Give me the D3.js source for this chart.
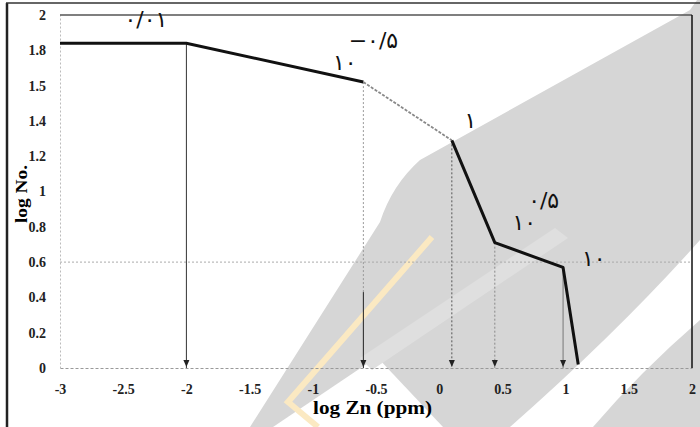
<!DOCTYPE html>
<html>
<head>
<meta charset="utf-8">
<script src="https://cdn.jsdelivr.net/npm/d3@7"></script>
<style>
	body { margin: 0; background: #fff; }
	svg { display: block; }
	.anno { font-family: 'DejaVu Sans', sans-serif; fill: #111; }
</style>
</head>
<body>
<div id="chart"></div>
<script>
// Data
const xTickValues = [-3, -2.5, -2, -1.5, -1, -0.5, 0, 0.5, 1, 1.5, 2]
const xTickLabels = ['-3', '-2.5', '-2', '-1.5', '-1', '-0.5', '0', '0.5', '1', '1.5', '2']
const yTickValues = [0, 0.2, 0.4, 0.6, 0.8, 1, 1.2, 1.4, 1.6, 1.8, 2]
const yTickLabels = ['0', '0.2', '0.4', '0.6', '0.8', '1', '1.2', '1.4', '1.5', '1.8', '2']

// break points of the curve (log Zn, log No.)
const curveX = [-3, -2, -0.6, 0.1, 0.44, 0.98, 1.1]
const curveY = [1.84, 1.84, 1.62, 1.29, 0.71, 0.57, 0.02]

// arrows dropped from the break points
const arrowX = [-2, -0.6, 0.1, 0.44, 0.98]
const arrowTop = [1.84, 1.62, 1.29, 0.71, 0.57]

// persian labels: base text, superscript, anchor in data units
const annoBase = ['۰/۰۱', '۱۰', '۱', '۱۰', '۱۰']
const annoSup = ['', '−۰/۵', '', '۰/۵', '']
const annoX = [-2.49, -0.84, 0.2, 0.58, 1.13]
const annoY = [1.93, 1.69, 1.36, 0.78, 0.58]

const W = 700, H = 427
const margin = { top: 15, right: 8, bottom: 59, left: 60 }
const width = W - margin.left - margin.right
const height = H - margin.top - margin.bottom

const svg = d3.select('#chart').append('svg')
	.attr('width', W)
	.attr('height', H)

// scan background: outer frame + watermark
const bg = svg.append('g').classed('background', true)
bg.append('rect').attr('width', W).attr('height', H).attr('fill', '#fff')
bg.append('path')
	.attr('d', 'M697,0 L700,0 L700,427 L250,427 L380,222 Q392,185 420,160 L690,10 Z')
	.attr('fill', '#d6d6d6')
bg.append('path')
	.attr('d', 'M273,427 L377,357 L443,427 Z')
	.attr('fill', '#fff')
bg.append('path')
	.attr('d', 'M510,427 Q620,330 700,240 L700,320 Q640,372 593,427 Z')
	.attr('fill', '#fff')
bg.append('path')
	.attr('d', 'M360,358 L555,228 L568,238 L372,370 Z')
	.attr('fill', '#dfdfdf')
bg.append('polyline')
	.attr('points', '432,237 288,402 318,427')
	.attr('fill', 'none')
	.attr('stroke', '#fbe9c2')
	.attr('stroke-width', 6)
bg.append('line').attr('x1', 7).attr('x2', 7).attr('y1', 3).attr('y2', H)
	.attr('stroke', '#222').attr('stroke-width', 2.5)
bg.append('line').attr('x1', 6).attr('x2', W).attr('y1', 3).attr('y2', 3)
	.attr('stroke', '#333').attr('stroke-width', 1.5)

const g = svg.append('g')
	.attr('transform', `translate(${margin.left}, ${margin.top})`)

const x = d3.scaleLinear().domain([-3, 2]).range([0, width])
const y = d3.scaleLinear().domain([0, 2]).range([height, 0])

// faint grid line at 0.6
g.append('line')
	.attr('x1', 0).attr('x2', width)
	.attr('y1', y(0.6)).attr('y2', y(0.6))
	.attr('stroke', '#aaa').attr('stroke-dasharray', '2,2')

// axes
const xAxis = g.append('g')
	.attr('transform', `translate(0, ${height})`)
	.call(d3.axisBottom(x).tickValues(xTickValues).tickSize(0).tickPadding(16)
		.tickFormat((d, i) => xTickLabels[i]))
xAxis.select('.domain').attr('stroke', '#999').attr('stroke-dasharray', '3,2')

const yAxis = g.append('g')
	.call(d3.axisLeft(y).tickValues(yTickValues).tickSize(0).tickPadding(14)
		.tickFormat((d, i) => yTickLabels[i]))
yAxis.select('.domain').attr('stroke', '#bbb').attr('stroke-dasharray', '2,2')

svg.selectAll('.tick text')
	.style('font-family', 'Liberation Serif, serif')
	.style('font-weight', 'bold')
	.style('font-size', '14px')
	.attr('fill', '#222')

// frame top and right
g.append('line').attr('x1', 0).attr('x2', width).attr('y1', 0).attr('y2', 0)
	.attr('stroke', '#555').attr('stroke-width', 1.5)
g.append('line').attr('x1', width).attr('x2', width).attr('y1', 0).attr('y2', height)
	.attr('stroke', '#111').attr('stroke-width', 1.5)

// arrows
function arrowHead(xv) {
	const px = x(xv), py = y(0)
	g.append('path')
		.attr('d', `M${px - 3},${py - 8} L${px + 3},${py - 8} L${px},${py - 1} Z`)
		.attr('fill', '#222')
}
arrowX.forEach((xv, i) => {
	const seg = (y1, y2, dashed, color) => g.append('line')
		.attr('x1', x(xv)).attr('x2', x(xv))
		.attr('y1', y(y1)).attr('y2', y(y2))
		.attr('stroke', color)
		.attr('stroke-width', 1)
		.attr('stroke-dasharray', dashed ? '2,2' : null)
	if (i === 0) seg(arrowTop[i], 0, false, '#333')
	else if (i === 1) { seg(arrowTop[i], 0.43, true, '#999'); seg(0.43, 0, false, '#222') }
	else if (i === 2) seg(arrowTop[i], 0, true, '#555')
	else if (i === 3) seg(arrowTop[i], 0, true, '#888')
	else seg(arrowTop[i], 0, false, '#777')
	arrowHead(xv)
})

// curve
const pts = curveX.map((d, i) => [d, curveY[i]])
const line = d3.line().x(d => x(d[0])).y(d => y(d[1]))
g.append('path')
	.attr('d', line(pts.slice(0, 3)))
	.attr('fill', 'none').attr('stroke', '#111').attr('stroke-width', 3)
g.append('path')
	.attr('d', line(pts.slice(2, 4)))
	.attr('fill', 'none').attr('stroke', '#888').attr('stroke-width', 1.8)
	.attr('stroke-dasharray', '3,1.5')
g.append('path')
	.attr('d', line(pts.slice(3)))
	.attr('fill', 'none').attr('stroke', '#111').attr('stroke-width', 3)
	.attr('stroke-linejoin', 'round')

// persian labels
annoBase.forEach((t, i) => {
	const txt = g.append('text')
		.classed('anno', true)
		.attr('direction', 'ltr')
		.attr('x', x(annoX[i]))
		.attr('y', y(annoY[i]))
		.style('font-size', '22px')
	txt.append('tspan').text(t)
	if (annoSup[i]) {
		txt.append('tspan')
			.attr('dx', -8)
			.attr('dy', -22)
			.text(annoSup[i])
	}
})

// axis titles
svg.append('text')
	.attr('x', 313)
	.attr('y', 414)
	.attr('textLength', 119)
	.attr('lengthAdjust', 'spacingAndGlyphs')
	.style('font-family', 'Liberation Serif, serif')
	.style('font-weight', 'bold')
	.style('font-size', '18px')
	.text('log Zn (ppm)')

svg.append('text')
	.attr('transform', `translate(27, 223) rotate(-90)`)
	.attr('textLength', 58)
	.attr('lengthAdjust', 'spacingAndGlyphs')
	.style('font-family', 'Liberation Serif, serif')
	.style('font-weight', 'bold')
	.style('font-size', '16px')
	.text('log No.')
</script>
</body>
</html>
